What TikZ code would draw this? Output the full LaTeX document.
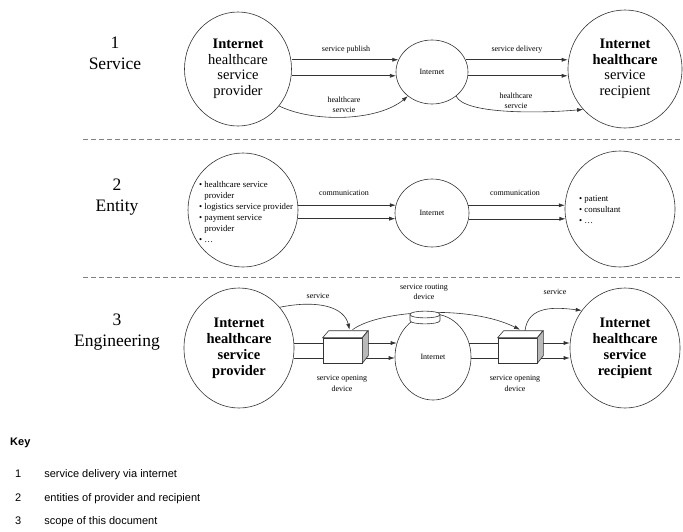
\documentclass[tikz,border=0pt]{standalone}
\usepackage{fontspec}
\setmainfont{Liberation Serif}
\newfontfamily\keyfont{Liberation Sans}
\usetikzlibrary{shapes.geometric,arrows.meta}
\newcommand{\cubefaces}[1]{
  \draw[draw=black!80,line width=0.6pt,fill=white] (#1.north west) -- ++(6,-7) -- ++(39,0) -- (#1.north east) -- cycle;
  \draw[draw=black!80,line width=0.6pt,fill=gray!55] (#1.north east) -- ++(6,-7) -- ++(0,25) -- (#1.south east) -- cycle;
}
\tikzset{
  party/.style={draw=black!80,line width=0.6pt,shape=ellipse,inner sep=0pt,align=center,font=\fontsize{14.5}{15.5}\selectfont},
  net/.style={draw=black!80,line width=0.6pt,shape=ellipse,inner sep=0pt,font=\fontsize{8}{10}\selectfont},
  opener/.style={draw=black!80,line width=0.6pt,fill=white,minimum width=39pt,minimum height=25pt,inner sep=0pt},
  tag/.style={font=\fontsize{8}{10.5}\selectfont,align=center,inner sep=1pt},
  bullets/.style={anchor=west,align=left,inner sep=0pt,font=\fontsize{8.8}{11}\selectfont},
  rowlabel/.style={font=\fontsize{17.5}{21}\selectfont,align=center},
  flow/.style={line width=0.6pt,draw=black!80,-{Latex[length=6pt,width=4pt]}},
  link/.style={line width=0.6pt,draw=black!80},
  divider/.style={draw=black!50,line width=0.8pt,dash pattern=on 5pt off 3pt}
}
\begin{document}
\begin{tikzpicture}[x=1pt,y=-1pt]
\useasboundingbox (0,0) rectangle (683,531);
% row labels
\node[rowlabel] (lab1) at (115,53.5) {1\\Service};
\node[rowlabel] (lab2) at (117,197.5) {2\\Entity};
\node[rowlabel] (lab3) at (117,332) {3\\Engineering};
\draw[divider] (83,139) -- (683,139);
\draw[divider] (83,277) -- (683,277);
% 1 service
\node[party,minimum width=107pt,minimum height=114pt] (L1) at (238,69) {\textbf{Internet}\\healthcare\\service\\provider};
\node[net,minimum width=72pt,minimum height=64pt] (M1) at (432,72) {Internet};
\node[party,minimum width=114pt,minimum height=118pt] (R1) at (625,69) {\textbf{Internet}\\\textbf{healthcare}\\service\\recipient};
\draw[flow] (M1.160 -| L1.east) -- (M1.160);
\draw[flow] (M1.186 -| L1.east) -- (M1.186);
\draw[flow] (M1.20) -- (M1.20 -| R1.west);
\draw[flow] (M1.-6) -- (M1.-6 -| R1.west);
\draw[flow] (L1.-42) .. controls +(35,17) and +(-30,25) .. (M1.-135);
\draw[flow] (M1.-45) .. controls +(8,18) and +(-45,4) .. (R1.-136);
\node[tag] at (346,50) {service publish};
\node[tag] at (517,50) {service delivery};
\node[tag] at (344,105) {healthcare\\servcie};
\node[tag] at (516,101) {healthcare\\servcie};
% 2 entity
\node[net,minimum width=110pt,minimum height=114pt] (L2) at (243,210) {};
\node[net,minimum width=74pt,minimum height=68pt] (M2) at (432,213) {Internet};
\node[net,minimum width=110pt,minimum height=116pt] (R2) at (620,209) {};
\node[bullets] (list1) at (199,212.5)
  {\textbullet\ healthcare service\\\phantom{\textbullet\ }provider\\\textbullet\ logistics service provider\\\textbullet\ payment service\\\phantom{\textbullet\ }provider\\\textbullet\ \ldots};
\node[bullets] (list2) at (579,210)
  {\textbullet\ patient\\\textbullet\ consultant\\\textbullet\ \ldots};
\draw[flow] (L2.5) -- (L2.5 -| M2.167);
\draw[flow] (L2.-9) -- (L2.-9 -| M2.189);
\draw[flow] (M2.12) -- (M2.12 -| R2.176);
\draw[flow] (M2.-9) -- (M2.-9 -| R2.190);
\node[tag] at (344,193) {communication};
\node[tag] at (515,193) {communication};
% 3 engineering
\node[party,minimum width=110pt,minimum height=120pt,font=\bfseries\fontsize{14.5}{16}\selectfont] (L3) at (239,348) {Internet\\healthcare\\service\\provider};
\node[net,minimum width=76pt,minimum height=86pt] (M3) at (433,357) {Internet};
\node[party,minimum width=110pt,minimum height=120pt,font=\bfseries\fontsize{14.5}{16}\selectfont] (R3) at (625,348) {Internet\\healthcare\\service\\recipient};
\node[opener] (LB) at (342.5,350.5) {};
\node[opener] (RB) at (517.5,350.5) {};
\cubefaces{LB}
\cubefaces{RB}
\coordinate (p1) at ([yshift=7.5pt]LB.west);
\coordinate (p2) at ([yshift=-7.5pt]LB.west);
\coordinate (s1) at ([xshift=6pt,yshift=7.5pt]LB.east);
\coordinate (s2) at ([xshift=4pt,yshift=-7.5pt]LB.east);
\coordinate (q1) at ([yshift=7.5pt]RB.west);
\coordinate (q2) at ([yshift=-7.5pt]RB.west);
\coordinate (r1) at ([xshift=6pt,yshift=7.5pt]RB.east);
\coordinate (r2) at ([xshift=4pt,yshift=-7.5pt]RB.east);
\draw[link] (p1 -| L3.east) -- (p1);
\draw[link] (p2 -| L3.east) -- (p2);
\draw[flow] (s1) -- (s1 -| M3.159);
\draw[flow] (s2) -- (s2 -| M3.182);
\draw[link] (M3.21) -- (M3.21 -| q1);
\draw[link] (M3.-2) -- (M3.-2 -| q2);
\draw[flow] (r1) -- (r1 -| R3.west);
\draw[flow] (r2) -- (r2 -| R3.west);
\coordinate (LBtip) at ([xshift=7pt,yshift=8pt]LB.north);
\coordinate (LBout) at ([xshift=10pt,yshift=8pt]LB.north);
\coordinate (RBtip) at ([xshift=2.5pt,yshift=8pt]RB.north);
\coordinate (RBout) at ([xshift=7.5pt,yshift=7pt]RB.north);
\draw[flow] (L3.45) .. controls +(40,-8) and +(-5,-22) .. (LBtip);
\draw[flow] (LBout) .. controls +(27.5,-20) and +(-50,-25) .. (RBtip);
\draw[flow] (RBout) .. controls +(3,-26) and +(-25,-3) .. (R3.139);
% routing device
\coordinate (router) at (425,317.5);
\draw[draw=black!80,line width=0.6pt,fill=white] ([xshift=-15pt,yshift=3pt]router) -- ([xshift=-15pt,yshift=-3pt]router)
  .. controls +(0,4.5) and +(0,4.5) .. ([xshift=15pt,yshift=-3pt]router) -- ([xshift=15pt,yshift=3pt]router)
  .. controls +(0,-4.5) and +(0,-4.5) .. cycle;
\draw[draw=black!80,line width=0.6pt] ([xshift=-15pt,yshift=3pt]router) .. controls +(0,4.5) and +(0,4.5) .. ([xshift=15pt,yshift=3pt]router);
\node[tag] at (424,292) {service routing\\device};
\node[tag] at (318,296) {service};
\node[tag] at (555,292) {service};
\node[tag] at (342,383.5) {service opening\\device};
\node[tag] at (515,383.5) {service opening\\device};
% key
\node[anchor=west,inner sep=0pt,font=\keyfont\bfseries\fontsize{11}{13}\selectfont] (key) at (10,443) {Key};
\foreach \num/\txt/\ypos in {1/service delivery via internet/475,2/entities of provider and recipient/499,3/scope of this document/522}
  \node[anchor=west,inner sep=0pt,font=\keyfont\fontsize{11}{13}\selectfont] (key\num) at (15,\ypos) {\num\hspace{23pt}\txt};
\end{tikzpicture}
\end{document}
